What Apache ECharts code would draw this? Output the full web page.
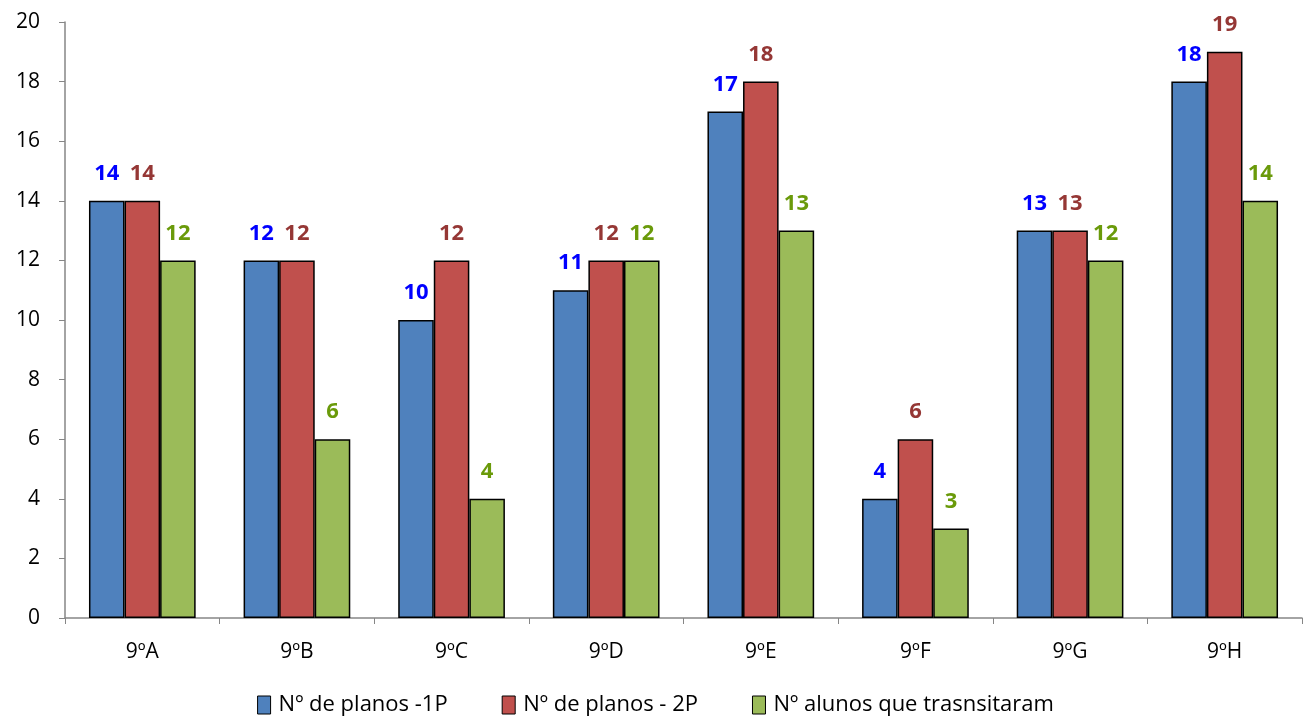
<!DOCTYPE html>
<html>
<head>
<meta charset="utf-8">
<script src="https://cdn.jsdelivr.net/npm/echarts@6/dist/echarts.min.js"></script>
<style>html,body{margin:0;padding:0;background:#fff}#c{width:1311px;height:721px}</style>
</head>
<body>
<div id="c"></div>
<script>
const categories = ['9ºA','9ºB','9ºC','9ºD','9ºE','9ºF','9ºG','9ºH'];
const planos1P = [14,12,10,11,17,4,13,18];
const planos2P = [14,12,12,12,18,6,13,19];
const alunosTransitaram = [12,6,4,12,13,3,12,14];
const seriesNames = ['Nº de planos -1P','Nº de planos - 2P','Nº alunos que trasnsitaram'];
const yTicks = {min:0,max:20,interval:2};

const fillColors = ['#4f81bd','#c0504d','#9bbb59'];
const labelColors = ['#0000ff','#953735','#6a9a0a'];
const font = '"Open Sans", "Liberation Sans", sans-serif';

const chart = echarts.init(document.getElementById('c'));
const dataSets = [planos1P, planos2P, alunosTransitaram];
chart.setOption({
  animation:false,
  grid:{left:65,right:9,top:22,bottom:103,containLabel:false},
  legend:{
    bottom:0,left:'center',itemWidth:13,itemHeight:18,itemGap:54,icon:'rect',
    textStyle:{fontFamily:font,fontSize:22,color:'#000',padding:[0,0,0,3]},
    data:seriesNames.map((n,i)=>({name:n,itemStyle:{color:fillColors[i],borderColor:'#000',borderWidth:1}}))
  },
  xAxis:{
    type:'category',data:categories,
    axisLine:{lineStyle:{color:'#868686',width:1.5}},
    axisTick:{show:true,length:6,lineStyle:{color:'#868686'},alignWithLabel:false},
    axisLabel:{fontFamily:font,fontSize:21,color:'#000',margin:24}
  },
  yAxis:{
    type:'value',min:yTicks.min,max:yTicks.max,interval:yTicks.interval,
    axisLine:{show:true,lineStyle:{color:'#868686',width:1.5}},
    axisTick:{show:true,length:6,lineStyle:{color:'#868686'}},
    splitLine:{show:false},
    axisLabel:{fontFamily:font,fontSize:21,color:'#000',margin:25}
  },
  series:dataSets.map((d,i)=>({
    name:seriesNames[i],type:'bar',data:d,
    barGap:'0%',barCategoryGap:'31%',
    itemStyle:{color:fillColors[i],borderColor:'#000',borderWidth:1.5},
    label:{show:true,position:'top',distance:16,color:labelColors[i],
      fontFamily:font,fontSize:22,fontWeight:'bold'}
  }))
});
</script>
</body>
</html>
